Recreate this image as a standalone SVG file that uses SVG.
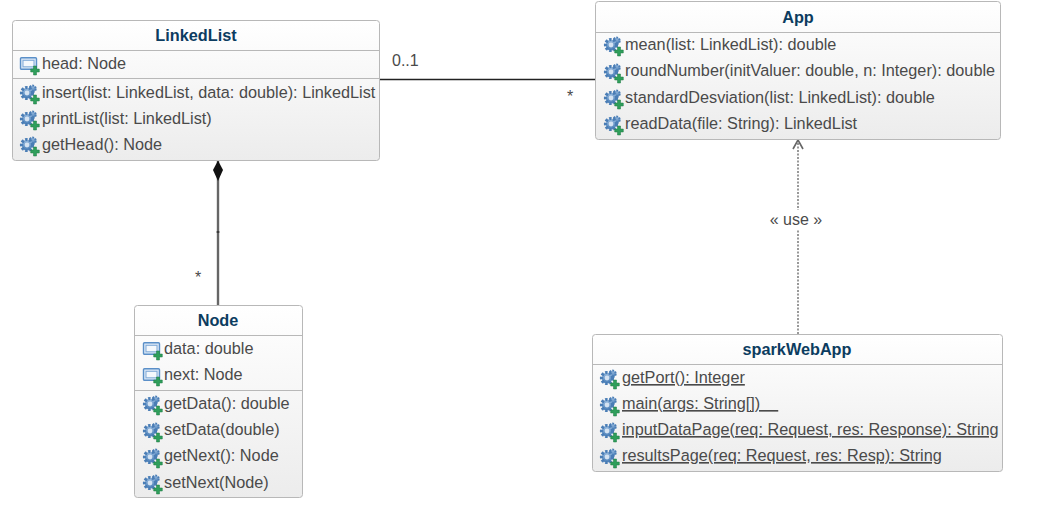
<svg xmlns="http://www.w3.org/2000/svg" xmlns:xlink="http://www.w3.org/1999/xlink" width="1061" height="519" viewBox="0 0 1061 519">
<style>
.box{fill:url(#g);stroke:#b8b8b8;stroke-width:1}
.sep{stroke:#b8b8b8;stroke-width:1;fill:none}
.t{font-family:"Liberation Sans",Arial,sans-serif;font-size:16.25px;fill:#4a4a4a}
.h{font-family:"Liberation Sans",Arial,sans-serif;font-size:16.25px;font-weight:bold;fill:#0c3c60;text-anchor:middle}
.u{text-decoration:underline;text-decoration-color:#222;text-underline-offset:2.5px;text-decoration-skip-ink:none}
.l{font-family:"Liberation Sans",Arial,sans-serif;font-size:16px;fill:#4a4a4a}
</style>
<defs>
<linearGradient id="g" x1="0" y1="0" x2="0" y2="1"><stop offset="0" stop-color="#ffffff"/><stop offset="1" stop-color="#ececec"/></linearGradient>
<linearGradient id="b" x1="0" y1="0" x2="0" y2="1"><stop offset="0" stop-color="#9cbde0"/><stop offset="1" stop-color="#4a7fb8"/></linearGradient>
<path id="plus" d="M13.500 11h3v3h2.800v3h-2.800v3h-3v-3h-2.800v-3h2.800z" fill="#2f9e5b" stroke="#1d7a42" stroke-width=".5"/>
<symbol id="attr" overflow="visible"><rect x=".5" y="1.800" width="16" height="11.500" rx="1" fill="#dbe8f6" stroke="#5a8fc8" stroke-width="1.400"/><rect x="3" y="4.300" width="11" height="6.500" fill="#f4f8fc" stroke="#7ea8d6" stroke-width="1"/><use xlink:href="#plus" x="0" y="-1"/></symbol>
<symbol id="op" overflow="visible"><circle cx="12.500" cy="4.800" r="3.200" fill="url(#b)" stroke="#4a7db5" stroke-width="2" stroke-dasharray="1.700 1.200"/><circle cx="7" cy="9" r="5.500" fill="url(#b)" stroke="#4a7db5" stroke-width="3.200" stroke-dasharray="2.400 1.500"/><circle cx="7" cy="9" r="2.400" fill="#d5e3f2"/><use xlink:href="#plus"/></symbol>
</defs>
<rect width="1061" height="519" fill="#fff"/>
<g id="connectors">
<path d="M380 79.500H595" fill="none" stroke="#222" stroke-width="1.300"/>
<path d="M218 161V305" fill="none" stroke="#666" stroke-width="2.400"/>
<path d="M218 160.500L223 170L218 181L213 170Z" fill="#111"/>
<path d="M216.500 232h3" stroke="#111" stroke-width="1"/>
<path d="M798 334V141" fill="none" stroke="#999" stroke-width="2" stroke-dasharray="2 1.500"/>
<path d="M793 149L798 140L803 149" fill="none" stroke="#666" stroke-width="1.600"/>
<rect x="768" y="210" width="56" height="19" fill="#fff"/>
<text class="l" x="796" y="225" text-anchor="middle">« use »</text>
<text class="l" x="392" y="66">0..1</text>
<text class="l" x="567" y="102">*</text>
<text class="l" x="195" y="283">*</text>
</g>
<g id="LinkedList">
<rect class="box" x="12.500" y="20.500" width="367" height="140" rx="3"/>
<path class="sep" d="M13 50.500H379M13 78.500H379"/>
<text class="h" x="196" y="41">LinkedList</text>
<use xlink:href="#attr" x="20" y="56"/><text class="t" x="42" y="69">head: Node</text>
<use xlink:href="#op" x="20" y="84"/><text class="t" x="42" y="98">insert(list: LinkedList, data: double): LinkedList</text>
<use xlink:href="#op" x="20" y="110"/><text class="t" x="42" y="124">printList(list: LinkedList)</text>
<use xlink:href="#op" x="20" y="136"/><text class="t" x="42" y="150">getHead(): Node</text>
</g>
<g id="App">
<rect class="box" x="595.500" y="1.500" width="405" height="138" rx="3"/>
<path class="sep" d="M596 32.500H1000"/>
<text class="h" x="798" y="23">App</text>
<use xlink:href="#op" x="604" y="36"/><text class="t" x="625" y="50">mean(list: LinkedList): double</text>
<use xlink:href="#op" x="604" y="63"/><text class="t" x="625" y="76">roundNumber(initValuer: double, n: Integer): double</text>
<use xlink:href="#op" x="604" y="89"/><text class="t" x="625" y="103">standardDesviation(list: LinkedList): double</text>
<use xlink:href="#op" x="604" y="115"/><text class="t" x="625" y="129">readData(file: String): LinkedList</text>
</g>
<g id="Node">
<rect class="box" x="134.500" y="305.500" width="168" height="192" rx="3"/>
<path class="sep" d="M135 335.500H302M135 390.500H302"/>
<text class="h" x="218" y="326">Node</text>
<use xlink:href="#attr" x="143" y="341"/><text class="t" x="164" y="354">data: double</text>
<use xlink:href="#attr" x="143" y="367"/><text class="t" x="164" y="380">next: Node</text>
<use xlink:href="#op" x="143" y="395"/><text class="t" x="164" y="409">getData(): double</text>
<use xlink:href="#op" x="143" y="422"/><text class="t" x="164" y="435">setData(double)</text>
<use xlink:href="#op" x="143" y="448"/><text class="t" x="164" y="461">getNext(): Node</text>
<use xlink:href="#op" x="143" y="474"/><text class="t" x="164" y="488">setNext(Node)</text>
</g>
<g id="sparkWebApp">
<rect class="box" x="592.500" y="334.500" width="410" height="137" rx="3"/>
<path class="sep" d="M593 364.500H1002"/>
<text class="h" x="797" y="355">sparkWebApp</text>
<use xlink:href="#op" x="600" y="369"/><text class="t u" x="622" y="383">getPort(): Integer</text>
<use xlink:href="#op" x="600" y="396"/><text class="t u" x="622" y="409">main(args: String[])&#160;&#160;&#160;&#160;</text>
<use xlink:href="#op" x="600" y="422"/><text class="t u" x="622" y="435">inputDataPage(req: Request, res: Response): String</text>
<use xlink:href="#op" x="600" y="448"/><text class="t u" x="622" y="461">resultsPage(req: Request, res: Resp): String</text>
</g>
</svg>
